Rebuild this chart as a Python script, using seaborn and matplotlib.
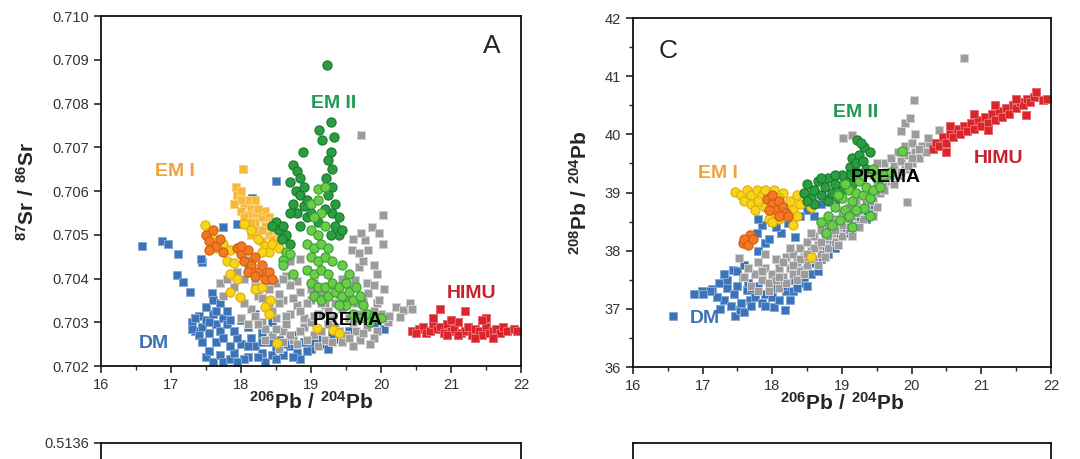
import numpy as np
import pandas as pd
import matplotlib
matplotlib.use("Agg")
import matplotlib.pyplot as plt
from matplotlib.ticker import MultipleLocator, FormatStrFormatter
import seaborn as sns

# === DATA: panel A (206Pb/204Pb vs 87Sr/86Sr) ===
a_gray = [
    (18.45, .7027), (18.6, .7028), (18.75, .7026), (18.9, .7029), (19.05, .7027), (19.2, .7026),
    (19.35, .7029), (19.5, .7027), (19.65, .7028), (19.8, .7029), (19.95, .7028), (20.1, .7030),
    (18.55, .7024), (18.8, .7025), (19.1, .70245), (19.45, .70255), (19.7, .7026),
    (18.0, .7031), (18.15, .7033), (18.3, .7030), (18.4, .7034), (18.5, .7031), (18.6, .7035),
    (18.7, .7032), (18.8, .7034), (18.9, .7031), (19.0, .7035), (19.1, .7032), (19.2, .7034),
    (19.3, .7031), (19.45, .7033), (19.55, .7031), (19.7, .7032), (19.85, .7031), (20.0, .7032),
    (18.25, .7036), (18.55, .70365), (18.85, .7037), (19.15, .70365), (19.4, .7036), (19.75, .70355),
    (19.95, .70345), (18.1, .70295), (18.35, .70285), (18.65, .70295), (19.0, .7030), (19.25, .70295),
    (19.6, .7030), (17.9, .7038), (18.05, .7040), (18.2, .70385), (18.35, .7041), (18.5, .7039),
    (18.65, .70405), (18.8, .70395), (18.95, .7042), (19.05, .7039), (19.45, .7040), (19.6, .70385),
    (19.8, .7039), (17.95, .70415), (18.1, .70425), (18.7, .7044), (18.85, .70445),
    (17.7, .7039), (17.75, .7036), (17.8, .7040), (18.09, .70442),
    (18.05, .70345), (18.2, .70315), (18.3, .70355), (18.45, .70325), (18.55, .70345), (18.65, .70315),
    (18.75, .70355), (18.85, .70325), (18.95, .70345), (19.05, .70315), (19.15, .70345), (19.25, .70325),
    (19.35, .70345), (19.5, .70355), (19.65, .70345), (19.9, .70325), (18.4, .70375), (18.7, .70385),
    (19.0, .70375), (19.3, .70385), (19.55, .70375), (18.5, .70285), (18.7, .7027), (18.85, .7028),
    (19.15, .7028), (19.4, .7028), (19.55, .70265), (19.75, .70275), (19.9, .70265), (20.05, .7031),
    (18.2, .7040), (18.4, .70395), (18.6, .7040), (18.25, .70295), (18.95, .7026), (19.3, .70255),
    (19.6, .70245), (19.85, .7025), (18.6, .70255), (18.35, .7026),
    (19.63, .70397), (19.68, .70427), (19.58, .70465), (19.68, .70458), (19.77, .70488),
    (19.87, .70518), (19.97, .70503), (20.03, .70545), (20.03, .7048), (19.75, .7044),
    (19.82, .70466), (19.9, .7043), (19.95, .7041), (19.72, .70505), (19.6, .7049),
    (19.82, .70366), (19.97, .70351), (20.22, .70336), (20.32, .70328), (20.41, .70343),
    (20.27, .70313), (20.12, .70315), (20.45, .7033), (20.05, .70375), (19.9, .70385),
    (19.71, .70728),
]
a_blue = [
    (16.59, .70474), (16.87, .70486), (16.96, .7048), (17.1, .70456), (17.44, .70438),
    (17.09, .70408), (17.17, .70392), (17.27, .70369), (17.59, .70367), (17.43, .70445),
    (17.74, .70518), (17.95, .70525), (18.16, .70584), (18.5, .70622),
    (17.3, .7030), (17.35, .7028), (17.4, .70315), (17.45, .7029), (17.5, .70305), (17.55, .70275),
    (17.6, .7032), (17.65, .70295), (17.7, .7028), (17.75, .7031), (17.8, .70325), (17.3, .70285),
    (17.4, .7027), (17.5, .70335), (17.6, .7035), (17.7, .70345),
    (17.5, .7022), (17.55, .70235), (17.6, .7021), (17.7, .70225), (17.75, .7021), (17.85, .70215),
    (17.9, .7023), (18.0, .7025), (18.1, .7022), (18.2, .70245), (18.3, .7023), (18.4, .70255),
    (18.5, .7024), (18.6, .70225), (18.7, .70245), (18.8, .7023), (18.9, .70255), (19.0, .7024),
    (19.1, .70265), (19.2, .7025), (19.3, .7027), (17.95, .70265), (18.15, .70265), (18.35, .7021),
    (18.55, .7026), (18.75, .7027), (19.4, .70262), (19.55, .7028), (19.9, .70298), (20.05, .70285),
    (17.8, .70295), (17.9, .7028), (18.0, .70305), (18.1, .7029), (18.2, .7032), (18.3, .70275),
    (18.45, .7030), (18.5, .7039),
    (17.85, .70245), (18.05, .70215), (18.25, .7022), (18.45, .70225), (18.65, .7025), (18.85, .70215),
    (19.05, .70255), (19.25, .7024), (18.1, .70245), (18.3, .70255), (18.5, .70215), (18.75, .7022),
    (18.95, .70235), (17.95, .7021), (17.65, .70255), (17.45, .70255), (17.35, .7031), (17.55, .7030),
    (17.65, .70325), (17.75, .70265), (17.85, .70305),
]
a_red = [
    (20.45, .7028), (20.55, .70285), (20.6, .7029), (20.65, .70275), (20.7, .7028), (20.75, .70295),
    (20.8, .70285), (20.85, .7029), (20.9, .70275), (20.95, .70295), (21.0, .7028), (21.05, .70285),
    (21.1, .7030), (21.15, .70275), (21.2, .7028), (21.25, .7029), (21.3, .7027), (21.35, .70285),
    (21.4, .7028), (21.45, .7027), (21.5, .7029), (21.55, .70275), (21.6, .7028), (21.65, .70285),
    (21.7, .70275), (21.75, .7029), (21.8, .7028), (21.9, .70285), (21.95, .7028), (20.85, .7033),
    (21.2, .70325), (21.5, .7031), (20.75, .7031), (21.0, .70305), (21.35, .70265), (21.6, .70265),
    (21.45, .70305), (20.5, .70275), (20.95, .7027), (21.1, .7027),
]
a_gold = [
    (18.03, .7065), (17.93, .7061), (17.95, .7059), (18.0, .7060), (18.05, .7057), (18.1, .7058),
    (18.15, .7056), (18.2, .7055), (18.0, .70555), (18.1, .70545), (18.2, .7053), (18.3, .7054),
    (18.25, .7051), (18.35, .7052), (18.4, .7050), (18.15, .7050), (18.3, .70485), (18.45, .7049),
    (18.1, .70525), (18.35, .70555), (18.5, .7051), (18.0, .7058),
    (17.9, .7057), (18.05, .7054), (18.2, .7058), (18.25, .7056), (18.4, .7054), (18.3, .7051),
    (18.45, .7053), (18.15, .7053), (18.55, .7049),
]
a_yellow = [
    (17.49, .70522), (17.55, .70505), (17.6, .7049), (17.65, .7047), (17.75, .7048), (17.85, .70465),
    (17.8, .7044), (17.9, .70435), (17.85, .7041), (17.95, .7040), (17.84, .70369), (17.99, .70358),
    (18.2, .70375), (18.3, .7038), (18.41, .70351), (18.35, .70335), (18.4, .7032), (18.05, .70525),
    (18.15, .7051), (18.25, .7049), (18.35, .70475), (18.4, .7046), (18.45, .7048), (18.3, .7046),
    (18.51, .70253), (19.09, .70287), (19.31, .70282), (19.4, .70275), (18.6, .70495), (18.55, .7047),
]
a_orange = [
    (17.5, .7050), (17.55, .70485), (17.6, .7051), (17.65, .70475), (17.7, .7049), (17.75, .7046),
    (17.55, .70465), (17.95, .7047), (18.0, .70455), (18.05, .7044), (18.1, .70465), (18.15, .7043),
    (18.2, .7045), (18.25, .70415), (18.3, .7043), (18.35, .7040), (18.4, .70415), (18.45, .7040),
    (18.1, .70415), (18.2, .70405), (18.0, .70475),
]
a_dkgreen = [
    (19.23, .70888), (19.28, .70758), (19.11, .70739), (19.33, .70724), (19.16, .70717), (18.89, .7069),
    (19.28, .7069), (18.75, .7066), (18.8, .70645), (18.85, .7063), (18.9, .7061), (18.78, .7060),
    (18.85, .7059), (18.75, .7057), (18.9, .70565), (18.8, .7055), (18.95, .7054), (18.7, .7055),
    (18.85, .7052), (18.95, .7058), (18.7, .7062), (19.25, .7067), (19.3, .7065), (19.22, .7063),
    (19.3, .7061), (19.25, .7059), (19.35, .7057), (19.3, .7055), (19.4, .7054), (19.35, .7052),
    (19.4, .7050), (19.2, .7056), (19.45, .7051), (19.28, .7050), (18.5, .7053), (18.55, .7051),
    (18.6, .7052), (18.65, .7050), (18.58, .7049), (18.7, .7048), (18.45, .7052), (19.0, .7055),
    (19.1, .7053),
]
a_ltgreen = [
    (19.0, .7057), (19.1, .7058), (19.15, .7055), (19.05, .7054), (19.0, .7051), (19.1, .7050),
    (19.2, .7052), (18.95, .7048), (19.05, .7047), (19.15, .7048), (19.0, .7045), (19.1, .7044),
    (19.2, .7045), (18.95, .7042), (19.05, .7041), (19.15, .7042), (19.25, .7041), (19.0, .7039),
    (19.1, .7038), (19.2, .7038), (19.3, .7039), (19.05, .7036), (19.15, .7035), (19.25, .7036),
    (19.35, .7037), (19.1, .70605), (19.2, .7061), (19.3, .7044), (19.25, .7047),
    (19.4, .7038), (19.45, .7036), (19.5, .7039), (19.55, .7037), (19.6, .7035), (19.5, .7034),
    (19.65, .7038), (19.7, .7036), (19.75, .7034), (19.6, .7032), (19.8, .7032), (19.85, .7030),
    (19.9, .70315), (20.0, .7031), (19.7, .7031), (19.4, .7034), (19.55, .7041), (19.45, .7043),
    (18.6, .70442), (18.65, .7046), (18.7, .70455), (18.6, .7043), (18.75, .7041),
]

# === DATA: panel C (206Pb/204Pb vs 208Pb/204Pb) ===
c_gray = [
    (17.52, 37.87), (17.6, 37.55), (17.7, 37.4), (17.75, 37.6), (17.8, 37.3), (17.85, 37.5),
    (17.9, 37.7), (17.95, 37.45), (18.0, 37.6), (18.05, 37.85), (18.1, 37.35), (18.1, 37.7),
    (18.15, 37.55), (18.2, 37.9), (18.2, 37.45), (18.25, 37.7), (18.3, 37.6), (18.3, 37.95),
    (18.35, 37.8), (18.4, 38.05), (18.4, 37.65), (18.45, 37.9), (18.5, 38.15), (18.5, 37.75),
    (18.55, 38.0), (18.6, 37.85), (18.6, 38.25), (18.65, 38.1), (18.7, 37.95), (18.7, 38.35),
    (18.75, 38.2), (18.8, 38.05), (18.8, 38.45), (18.85, 38.3), (18.9, 38.15), (18.9, 38.55),
    (18.95, 38.4), (19.0, 38.25), (19.0, 38.65), (19.05, 38.5), (19.1, 38.35), (19.1, 38.75),
    (19.15, 38.6), (19.2, 38.45), (19.2, 38.85), (19.25, 38.7), (19.3, 38.55), (19.3, 38.95),
    (19.35, 38.8), (19.4, 38.65), (19.4, 39.05), (19.45, 38.9), (19.5, 38.75), (19.5, 39.15),
    (19.55, 39.0), (19.55, 39.3), (19.6, 39.15), (19.6, 39.5), (19.65, 39.35), (19.7, 39.2),
    (19.7, 39.6), (19.75, 39.45), (19.8, 39.3), (19.8, 39.7), (19.85, 39.55), (19.9, 39.4),
    (19.9, 39.8), (19.95, 39.65), (20.0, 39.5), (20.0, 39.85), (20.05, 39.7), (20.1, 39.6),
    (20.15, 39.8), (20.2, 39.7), (20.25, 39.85), (20.3, 39.75), (19.5, 39.5), (19.45, 39.3),
    (17.65, 37.7), (17.8, 37.8), (17.9, 37.95), (17.95, 37.3), (18.05, 37.5), (18.15, 37.8),
    (18.25, 38.05), (18.35, 37.5), (18.45, 37.6), (18.55, 38.3), (18.65, 37.75), (18.75, 37.9),
    (18.85, 38.5), (18.95, 38.1), (19.05, 38.6), (19.15, 38.25), (19.25, 38.4), (19.35, 38.95),
    (19.45, 38.6), (18.4, 37.85), (18.6, 38.05), (18.8, 38.25), (19.0, 38.45), (19.2, 38.65),
    (19.4, 38.85), (19.6, 39.05), (19.65, 39.25), (19.75, 39.15), (19.85, 39.35), (19.95, 39.45),
    (20.1, 39.75), (20.0, 39.6), (19.55, 39.15), (18.1, 37.55), (17.85, 37.65), (18.3, 37.75),
    (18.5, 37.95), (18.7, 38.15), (18.9, 38.35), (19.1, 38.55),
    (19.02, 39.94), (19.14, 39.99), (19.91, 40.19), (19.98, 40.28), (20.03, 40.59), (20.75, 41.31),
    (19.93, 38.83), (20.40, 40.07), (20.23, 39.93), (19.85, 40.05), (20.05, 40.0), (20.45, 39.9),
]
c_blue = [
    (16.58, 36.88), (16.87, 37.25), (16.99, 37.31), (17.14, 37.34), (17.24, 37.44), (17.31, 37.15),
    (17.46, 36.87), (17.53, 36.98), (17.68, 37.15), (17.43, 37.67), (17.58, 37.55), (17.63, 37.32),
    (17.78, 38.30), (17.90, 38.13), (18.03, 37.04), (18.18, 36.98), (18.32, 37.50), (18.47, 37.67),
    (18.62, 37.78), (18.82, 38.13), (18.92, 38.30), (19.12, 38.53), (19.44, 38.78), (18.13, 38.30),
    (18.32, 38.24), (18.23, 38.47), (17.2, 37.2), (17.35, 37.35), (17.4, 37.05), (17.45, 37.25),
    (17.5, 37.4), (17.55, 37.1), (17.6, 36.95), (17.65, 37.45), (17.7, 37.05), (17.75, 37.2),
    (17.85, 37.1), (17.9, 37.25), (18.0, 37.2), (18.1, 37.15), (18.2, 37.3), (18.3, 37.3),
    (18.4, 37.45), (18.55, 37.6), (18.7, 37.85), (18.75, 38.0), (18.9, 38.05), (19.0, 38.25),
    (19.05, 38.4), (19.2, 38.55), (19.3, 38.65), (17.8, 38.0), (17.95, 38.2), (18.05, 38.4),
    (17.85, 38.45), (18.6, 38.6), (18.7, 38.8), (18.5, 38.7), (18.4, 38.6), (18.8, 38.9),
    (18.9, 38.75), (17.8, 38.55), (18.0, 38.5),
    (17.35, 37.5), (17.5, 37.65), (17.6, 37.75), (17.7, 37.35), (17.8, 37.4), (17.9, 37.05),
    (18.0, 37.35), (18.15, 37.4), (18.25, 37.15), (18.35, 37.35), (18.45, 37.55), (18.5, 37.4),
    (18.65, 37.65), (18.8, 37.95), (18.95, 38.15), (19.1, 38.3), (19.25, 38.45), (19.35, 38.55),
    (17.3, 37.6), (17.1, 37.3), (17.0, 37.25), (17.25, 37.0),
]
c_red = [
    (20.3, 39.75), (20.35, 39.85), (20.4, 39.8), (20.45, 39.95), (20.5, 39.85), (20.55, 40.0),
    (20.6, 39.95), (20.65, 40.1), (20.7, 40.0), (20.75, 40.15), (20.8, 40.05), (20.85, 40.2),
    (20.9, 40.1), (20.95, 40.25), (21.0, 40.15), (21.05, 40.3), (21.1, 40.2), (21.15, 40.35),
    (21.2, 40.25), (21.25, 40.4), (21.3, 40.3), (21.35, 40.45), (21.4, 40.35), (21.45, 40.5),
    (21.5, 40.45), (21.55, 40.55), (21.6, 40.5), (21.65, 40.6), (21.7, 40.55), (21.75, 40.65),
    (21.79, 40.73), (21.89, 40.59), (21.95, 40.6), (21.64, 40.33), (21.09, 40.07), (20.55, 40.15),
    (20.9, 40.35), (21.2, 40.5), (21.5, 40.6), (20.5, 39.7),
]
c_yellow = [
    (17.46, 39.01), (17.55, 38.95), (17.63, 39.04), (17.7, 38.95), (17.78, 39.04), (17.85, 38.95),
    (17.9, 39.05), (18.03, 39.04), (17.6, 38.85), (17.7, 38.8), (17.8, 38.85), (17.75, 38.7),
    (17.9, 38.75), (18.0, 38.65), (18.1, 38.55), (18.2, 38.6), (18.3, 38.7), (18.25, 38.85),
    (18.35, 38.95), (18.4, 38.8), (18.45, 39.0), (18.5, 38.9), (18.55, 38.75), (18.6, 39.05),
    (18.15, 39.0), (17.95, 38.55), (18.1, 38.9), (18.35, 38.6), (18.55, 37.9), (18.0, 38.5),
    (18.3, 38.45),
]
c_orange = [
    (17.93, 38.89), (18.0, 38.8), (18.05, 38.7), (18.1, 38.85), (18.15, 38.75), (18.2, 38.65),
    (18.23, 38.6), (17.95, 38.7), (18.1, 38.6), (17.58, 38.13), (17.68, 38.27), (17.6, 38.2),
    (17.65, 38.1), (17.72, 38.2), (18.0, 38.95),
]
c_dkgreen = [
    (19.21, 39.90), (19.31, 39.79), (19.12, 39.44), (19.15, 39.6), (19.25, 39.65), (19.2, 39.5),
    (19.3, 39.55), (19.1, 39.3), (19.35, 39.4), (19.2, 39.35), (19.4, 39.7), (19.28, 39.85),
    (19.05, 39.2), (19.15, 39.15), (18.45, 39.0), (18.5, 39.15), (18.55, 38.9), (18.6, 39.05),
    (18.65, 39.2), (18.7, 38.95), (18.75, 39.1), (18.8, 39.25), (18.85, 39.0), (18.9, 39.15),
    (18.95, 38.9), (19.0, 39.05), (18.6, 38.8), (18.8, 38.85), (18.5, 38.85), (18.7, 39.25),
    (19.0, 39.3), (18.9, 39.3),
]
c_ltgreen = [
    (18.77, 38.30), (18.97, 38.53), (19.31, 38.73), (18.8, 38.6), (18.9, 38.75), (19.0, 38.9),
    (19.05, 38.7), (19.1, 39.05), (19.15, 38.85), (19.2, 39.0), (19.25, 39.2), (19.3, 38.95),
    (19.35, 39.1), (19.4, 38.9), (19.45, 39.05), (19.5, 39.25), (19.55, 39.1), (19.6, 39.3),
    (19.45, 39.4), (19.1, 38.6), (19.2, 38.7), (18.85, 38.45), (18.95, 38.95), (19.05, 39.15),
    (19.3, 39.3), (19.7, 39.35), (19.86, 39.72), (18.7, 38.5), (19.15, 38.4), (19.4, 38.6),
]

# labels inside the panels: (text, x, y, colour)
a_labels = [("EM II", 19.32, 0.7080, "#1e9b50"), ("EM I", 17.05, 0.70645, "#f0a33c"),
            ("HIMU", 21.3, 0.70366, "#c8202c"), ("PREMA", 19.52, 0.70305, "black"),
            ("DM", 16.75, 0.70252, "#3b72b2")]
c_labels = [("EM II", 19.2, 40.38, "#1e9b50"), ("EM I", 17.22, 39.32, "#f0a33c"),
            ("HIMU", 21.25, 39.58, "#c8202c"), ("PREMA", 19.63, 39.25, "black"),
            ("DM", 17.03, 36.84, "#3b72b2")]

# === STYLE per group (drawing order: blue first, gray on top of it) ===
STYLES = {
    "blue":    dict(marker="s", s=26, color="#3b74b8", edgecolor="#86a9d4", linewidth=0.7),
    "gray":    dict(marker="s", s=26, color="#9c9c9c", edgecolor="#d2d2d2", linewidth=0.7),
    "red":     dict(marker="s", s=26, color="#d9252b", edgecolor="#ea6a6c", linewidth=0.7),
    "gold":    dict(marker="s", s=26, color="#f6b93a", edgecolor="#f9d27e", linewidth=0.7),
    "yellow":  dict(marker="o", s=44, color="#f6d41c", edgecolor="#e0ae00", linewidth=0.8),
    "orange":  dict(marker="o", s=44, color="#f07a22", edgecolor="#d65a10", linewidth=0.8),
    "dkgreen": dict(marker="o", s=44, color="#2a9d40", edgecolor="#187a2c", linewidth=0.8),
    "ltgreen": dict(marker="o", s=44, color="#6bcc48", edgecolor="#34a034", linewidth=0.8),
}

sns.set_style("ticks")
plt.rcParams["font.family"] = ["Liberation Sans", "DejaVu Sans"]
plt.rcParams["mathtext.fontset"] = "custom"
plt.rcParams["mathtext.rm"] = "Liberation Sans"
plt.rcParams["mathtext.bf"] = "Liberation Sans:bold"


def to_frame(groups):
    rows = []
    for name, pts in groups:
        for x, y in pts:
            rows.append((name, x, y))
    return pd.DataFrame(rows, columns=["group", "x", "y"])


def draw_panel(ax, df, labels, tag, tag_xy):
    for name in STYLES:
        sub = df[df.group == name]
        if len(sub) == 0:
            continue
        sns.scatterplot(data=sub, x="x", y="y", ax=ax, legend=False, **STYLES[name])
    for text, x, y, col in labels:
        ax.text(x, y, text, color=col, fontsize=14, fontweight="bold",
                ha="center", va="center", zorder=10)
    ax.text(tag_xy[0], tag_xy[1], tag, transform=ax.transAxes, fontsize=19,
            ha="center", va="center")


def style_axes(ax):
    for sp in ax.spines.values():
        sp.set_linewidth(1.3)
        sp.set_color("#111111")
    ax.tick_params(which="major", direction="out", length=5, width=1.2,
                   labelsize=10.5, labelcolor="#333333", top=False, right=False)
    ax.tick_params(which="minor", direction="out", length=3, width=1.0,
                   top=False, right=False)


fig = plt.figure(figsize=(10.8, 4.59), dpi=100)
axA = fig.add_axes([0.0935, 0.2026, 0.3889, 0.7625])
axC = fig.add_axes([0.5861, 0.2004, 0.3870, 0.7603])
axB = fig.add_axes([0.0935, -0.70, 0.3889, 0.7349])
axD = fig.add_axes([0.5861, -0.70, 0.3870, 0.7349])

dfA = to_frame([("gray", a_gray), ("blue", a_blue), ("red", a_red), ("gold", a_gold),
                ("yellow", a_yellow), ("orange", a_orange), ("dkgreen", a_dkgreen),
                ("ltgreen", a_ltgreen)])
dfC = to_frame([("gray", c_gray), ("blue", c_blue), ("red", c_red), ("yellow", c_yellow),
                ("orange", c_orange), ("dkgreen", c_dkgreen), ("ltgreen", c_ltgreen)])

pb_label = r"$\mathbf{^{206}Pb\ /\ ^{204}Pb}$"

# panel A
draw_panel(axA, dfA, a_labels, "A", (0.93, 0.915))
axA.set_xlim(16, 22)
axA.set_ylim(0.702, 0.710)
axA.xaxis.set_major_locator(MultipleLocator(1))
axA.xaxis.set_minor_locator(MultipleLocator(0.5))
axA.yaxis.set_major_locator(MultipleLocator(0.001))
axA.yaxis.set_major_formatter(FormatStrFormatter("%.3f"))
axA.set_xlabel(pb_label, fontsize=15)
axA.set_ylabel(r"$\mathbf{^{87}Sr\ /\ ^{86}Sr}$", fontsize=15)
axA.xaxis.set_label_coords(0.5, -0.072)
axA.yaxis.set_label_coords(-0.15, 0.5)
style_axes(axA)

# panel C
draw_panel(axC, dfC, c_labels, "C", (0.083, 0.905))
axC.set_xlim(16, 22)
axC.set_ylim(36, 42)
axC.xaxis.set_major_locator(MultipleLocator(1))
axC.xaxis.set_minor_locator(MultipleLocator(0.5))
axC.yaxis.set_major_locator(MultipleLocator(1))
axC.yaxis.set_minor_locator(MultipleLocator(0.5))
axC.set_xlabel(pb_label, fontsize=15)
axC.set_ylabel(r"$\mathbf{^{208}Pb\ /\ ^{204}Pb}$", fontsize=15)
axC.xaxis.set_label_coords(0.5, -0.072)
axC.yaxis.set_label_coords(-0.1, 0.5)
style_axes(axC)

# lower panels, only their top edge is inside the picture
axB.set_xlim(16, 22)
axB.set_ylim(0.5122, 0.5136)
axB.set_yticks([0.5136])
axB.yaxis.set_major_formatter(FormatStrFormatter("%.4f"))
axB.set_xticks([])
style_axes(axB)

axD.set_xlim(16, 22)
axD.set_ylim(15.3, 16.0)
axD.set_yticks([])
axD.set_xticks([])
style_axes(axD)

fig.savefig("out.png", dpi=100)
